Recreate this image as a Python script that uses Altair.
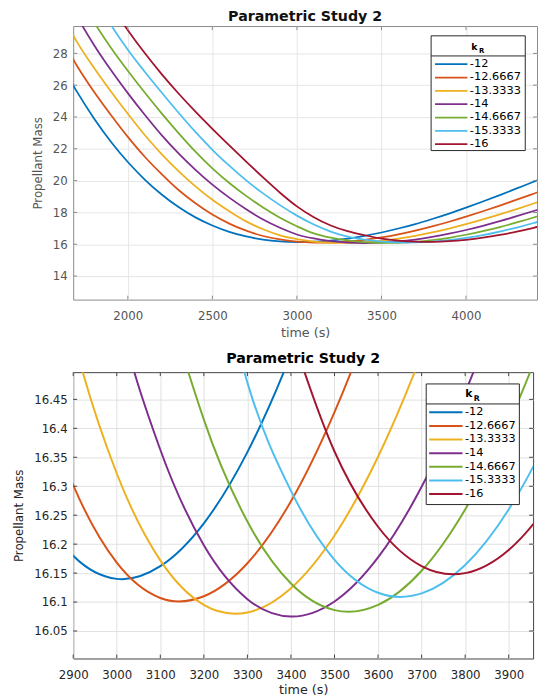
import altair as alt
import pandas as pd

# ---------------- data ----------------
time_s = [1600, 1700, 1800, 1900, 2000, 2100, 2200, 2300, 2400, 2500,
          2600, 2700, 2800, 2900, 3000, 3100, 3200, 3300, 3400, 3500,
          3600, 3700, 3800, 3900, 4000, 4100, 4200, 4300, 4400, 4500]

k_labels = ["-12", "-12.6667", "-13.3333", "-14", "-14.6667", "-15.3333", "-16"]

mass_k12_0 = [27.45, 25.58, 23.91, 22.45, 21.17, 20.07, 19.13, 18.34, 17.69, 17.18,
              16.78, 16.49, 16.29, 16.180, 16.140, 16.162, 16.236, 16.359, 16.528, 16.74,
              16.99, 17.27, 17.59, 17.93, 18.30, 18.69, 19.09, 19.51, 19.93, 20.37]
mass_k12_7 = [29.09, 27.21, 25.59, 24.13, 22.75, 21.50, 20.41, 19.41, 18.58, 17.87,
              17.30, 16.854, 16.52, 16.302, 16.168, 16.107, 16.110, 16.167, 16.274, 16.428,
              16.623, 16.855, 17.121, 17.416, 17.736, 18.076, 18.433, 18.801, 19.178, 19.558]
mass_k13_3 = [30.68, 28.71, 27.09, 25.60, 24.20, 22.87, 21.67, 20.60, 19.64, 18.80,
              18.08, 17.44, 16.942, 16.560, 16.322, 16.172, 16.095, 16.082, 16.124, 16.215,
              16.351, 16.528, 16.741, 16.987, 17.261, 17.560, 17.879, 18.214, 18.561, 18.916]
mass_k14_0 = [32.45, 30.32, 28.53, 26.95, 25.50, 24.14, 22.86, 21.71, 20.68, 19.75,
              18.93, 18.20, 17.555, 17.036, 16.615, 16.363, 16.198, 16.105, 16.075, 16.101,
              16.177, 16.299, 16.462, 16.662, 16.897, 17.161, 17.451, 17.763, 18.093, 18.436]
mass_k14_7 = [33.65, 31.75, 29.96, 28.36, 26.91, 25.54, 24.23, 22.99, 21.82, 20.77,
              19.85, 19.04, 18.31, 17.67, 17.136, 16.685, 16.415, 16.239, 16.132, 16.086,
              16.095, 16.154, 16.260, 16.409, 16.598, 16.824, 17.082, 17.370, 17.684, 18.021]
mass_k15_3 = [35.50, 33.45, 31.55, 29.79, 28.23, 26.85, 25.54, 24.27, 23.06, 21.94,
              20.94, 20.02, 19.20, 18.46, 17.80, 17.24, 16.799, 16.479, 16.292, 16.173,
              16.116, 16.115, 16.164, 16.260, 16.400, 16.580, 16.799, 17.052, 17.338, 17.652]
mass_k16_0 = [35.95, 34.25, 32.60, 31.00, 29.46, 28.02, 26.70, 25.48, 24.34, 23.26,
              22.22, 21.20, 20.20, 19.24, 18.38, 17.70, 17.18, 16.82, 16.567, 16.360,
              16.230, 16.162, 16.150, 16.190, 16.279, 16.411, 16.584, 16.793, 17.034, 17.303]

series = [mass_k12_0, mass_k12_7, mass_k13_3, mass_k14_0, mass_k14_7, mass_k15_3, mass_k16_0]
colors = ["#0072BD", "#D95319", "#EDB120", "#7E2F8E", "#77AC30", "#4DBEEE", "#A2142F"]

top_x_ticks = [2000, 2500, 3000, 3500, 4000]
top_y_ticks = [14, 16, 18, 20, 22, 24, 26, 28]
bot_x_ticks = [2900, 3000, 3100, 3200, 3300, 3400, 3500, 3600, 3700, 3800, 3900]
bot_y_ticks = [16.05, 16.1, 16.15, 16.2, 16.25, 16.3, 16.35, 16.4, 16.45]

rows = []
for lab, ys in zip(k_labels, series):
    for t, m in zip(time_s, ys):
        rows.append({"time": t, "mass": m, "kR": lab})
df = pd.DataFrame(rows)
one = pd.DataFrame({"d": [0]})

FONT = "DejaVu Sans"


def panel(xdom, ydom, w, h, xt, yt, yfmt, box_col, lbl_col, grid_col, lw, lg, xtp):
    xs = alt.Scale(domain=xdom, nice=False, zero=False)
    ys = alt.Scale(domain=ydom, nice=False, zero=False)
    xaxis = alt.Axis(values=xt, format="d", title="time (s)", grid=True, gridColor=grid_col,
                     domain=False, ticks=False, labelPadding=11, labelFontSize=12,
                     labelColor=lbl_col, labelFont=FONT, titleFont=FONT, titleFontSize=13,
                     titleFontWeight="normal", titleColor=lbl_col, titlePadding=xtp,
                     labelFlush=False)
    yaxis = alt.Axis(values=yt, format=yfmt, title="Propellant Mass", grid=True, gridColor=grid_col,
                     domain=False, ticks=False, labelPadding=6, labelFontSize=12,
                     labelColor=lbl_col, labelFont=FONT, titleFont=FONT, titleFontSize=12,
                     titleFontWeight="normal", titleColor=lbl_col, titlePadding=8,
                     labelFlush=False)
    lines = alt.Chart(df).mark_line(clip=True, strokeWidth=lw, interpolate="cardinal").encode(
        x=alt.X("time:Q", scale=xs, axis=xaxis),
        y=alt.Y("mass:Q", scale=ys, axis=yaxis),
        color=alt.Color("kR:N", scale=alt.Scale(domain=k_labels, range=colors),
                        sort=k_labels, legend=None),
    )
    tl = 4
    xt_df = pd.DataFrame({"time": xt})
    yt_df = pd.DataFrame({"mass": yt})
    layers = [lines]
    layers.append(alt.Chart(xt_df).mark_rule(color=box_col, strokeWidth=1).encode(
        x=alt.X("time:Q", scale=xs, axis=xaxis), y=alt.value(h), y2=alt.value(h - tl)))
    layers.append(alt.Chart(xt_df).mark_rule(color=box_col, strokeWidth=1).encode(
        x=alt.X("time:Q", scale=xs, axis=xaxis), y=alt.value(0), y2=alt.value(tl)))
    layers.append(alt.Chart(yt_df).mark_rule(color=box_col, strokeWidth=1).encode(
        y=alt.Y("mass:Q", scale=ys, axis=yaxis), x=alt.value(0), x2=alt.value(tl)))
    layers.append(alt.Chart(yt_df).mark_rule(color=box_col, strokeWidth=1).encode(
        y=alt.Y("mass:Q", scale=ys, axis=yaxis), x=alt.value(w - tl), x2=alt.value(w)))

    # legend (box, title row, entries)
    x0, x1, y0, y1 = lg["box"]
    layers.append(alt.Chart(one).mark_rect(fill="white", stroke="#262626", strokeWidth=1).encode(
        x=alt.value(x0), x2=alt.value(x1), y=alt.value(y0), y2=alt.value(y1)))
    layers.append(alt.Chart(one).mark_rule(color="#262626", strokeWidth=1).encode(
        x=alt.value(x0), x2=alt.value(x1), y=alt.value(lg["sep"])))
    layers.append(alt.Chart(one).mark_text(text="k", font=FONT, fontWeight="bold", fontSize=lg["ksz"],
                                           align="center", baseline="alphabetic", color="#000").encode(
        x=alt.value(lg["kpos"][0]), y=alt.value(lg["kpos"][1])))
    layers.append(alt.Chart(one).mark_text(text="R", font=FONT, fontWeight="bold", fontSize=lg["rsz"],
                                           align="center", baseline="alphabetic", color="#000").encode(
        x=alt.value(lg["rpos"][0]), y=alt.value(lg["rpos"][1])))
    sx0, sx1 = lg["sym"]
    for i, (lab, col) in enumerate(zip(k_labels, colors)):
        yy = lg["row0"] + i * lg["dy"]
        layers.append(alt.Chart(one).mark_rule(color=col, strokeWidth=lg["sw"]).encode(
            x=alt.value(sx0), x2=alt.value(sx1), y=alt.value(yy)))
        layers.append(alt.Chart(one).mark_text(text=lab, font=FONT, fontSize=lg["fs"], align="left",
                                               baseline="middle", color="#000").encode(
            x=alt.value(lg["tx"]), y=alt.value(yy)))
    return alt.layer(*layers).properties(
        width=w, height=h, view=alt.ViewBackground(stroke=box_col, strokeWidth=1))


lg_top = dict(box=(365, 461, 10, 127), sep=30.5, ksz=9.5, rsz=7, kpos=(409, 24), rpos=(416.5, 27.5),
              sym=(369, 402), tx=404.5, row0=38.9, dy=13.6, fs=11.6, sw=1.8)
lg_bot = dict(box=(360, 455, 12, 135), sep=32.4, ksz=11, rsz=8, kpos=(403.5, 25), rpos=(411.5, 29.5),
              sym=(363, 397), tx=399.5, row0=40.9, dy=13.9, fs=11.5, sw=2)

top = panel([1677, 4420], [12.52, 29.72], 473, 279, top_x_ticks, top_y_ticks, "d",
            "#8a8a8a", "#555555", "#e6e6e6", 1.8, lg_top, 5.5).properties(
    title=alt.TitleParams("Parametric Study 2", font=FONT, fontSize=14.5, fontWeight="bold",
                          color="#111111", offset=1.5, anchor="middle"))

bot = panel([2900, 3956], [16.0025, 16.497], 469, 292, bot_x_ticks, bot_y_ticks, "~g",
            "#404040", "#262626", "#e0e0e0", 2, lg_bot, 3.5).properties(
    title=alt.TitleParams("Parametric Study 2", font=FONT, fontSize=14.5, fontWeight="bold",
                          color="#000000", offset=5, anchor="middle"))

chart = alt.vconcat(top, bot, spacing=11).resolve_scale(
    x="independent", y="independent").properties(
    padding={"left": 4.5, "top": -6.5, "right": 0, "bottom": 0}).configure(font=FONT)

chart.save("out.html", embed_options={"renderer": "svg", "actions": False})
